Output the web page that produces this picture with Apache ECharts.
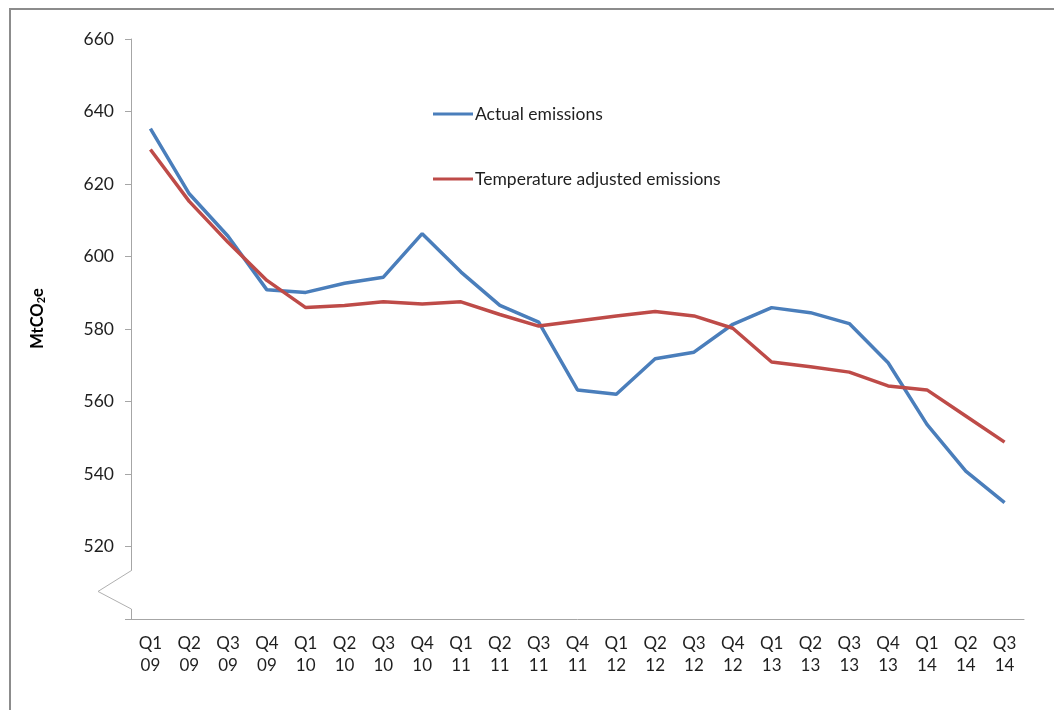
<!DOCTYPE html>
<html>
<head>
<meta charset="utf-8">
<script src="https://cdn.jsdelivr.net/npm/echarts@6/dist/echarts.min.js"></script>
<style>
html,body{margin:0;padding:0;background:#fff;}
#c{width:1054px;height:710px;}
</style>
</head>
<body>
<div id="c"></div>
<script>
const categories = ['Q1\n09','Q2\n09','Q3\n09','Q4\n09','Q1\n10','Q2\n10','Q3\n10','Q4\n10','Q1\n11','Q2\n11','Q3\n11','Q4\n11','Q1\n12','Q2\n12','Q3\n12','Q4\n12','Q1\n13','Q2\n13','Q3\n13','Q4\n13','Q1\n14','Q2\n14','Q3\n14'];
const actualEmissions = [635.3,617.3,605.6,590.8,590.1,592.6,594.3,606.3,595.7,586.5,581.9,563.2,562.0,571.8,573.6,581.3,585.9,584.5,581.5,570.7,553.7,540.8,532.1];
const temperatureAdjusted = [629.5,615.2,603.9,593.4,585.9,586.5,587.5,586.9,587.5,584.0,580.8,582.2,583.6,584.8,583.6,580.2,570.9,569.6,568.1,564.3,563.2,556.0,548.8];
const yTicks = {min:500, max:660, interval:20};

const FONT = 'Lato';
const TXT = '#1f1f1f';
const AXIS = '#a6a6a6';

const chart = echarts.init(document.getElementById('c'), null, {renderer:'canvas'});
chart.setOption({
  animation:false,
  backgroundColor:'#ffffff',
  grid:{left:131, right:30, top:39, bottom:91, containLabel:false},
  legend:{
    orient:'vertical', left:428, top:99,
    icon:'rect',
    itemWidth:40, itemHeight:3, itemGap:45,
    textStyle:{fontFamily:FONT, fontSize:17.5, color:TXT, lineHeight:20, padding:[0,0,0,-3]}
  },
  xAxis:{
    type:'category', data:categories, boundaryGap:true,
    axisLine:{lineStyle:{color:AXIS, width:1}},
    axisTick:{length:6, lineStyle:{color:AXIS}, alignWithLabel:false},
    axisLabel:{fontFamily:FONT, fontSize:17, color:TXT, lineHeight:22, margin:14, interval:0}
  },
  yAxis:{
    type:'value', min:yTicks.min, max:yTicks.max, interval:yTicks.interval,
    name:'{a|MtCO}{s|2}{a|e}', nameLocation:'middle', nameGap:84, nameRotate:90,
    nameTextStyle:{
      padding:[0,0,0,21],
      rich:{
        a:{fontFamily:FONT, fontSize:16.5, fontWeight:'bold', color:'#000', lineHeight:19},
        s:{fontFamily:FONT, fontSize:11, fontWeight:'bold', color:'#000', verticalAlign:'bottom', lineHeight:13}
      }
    },
    splitLine:{show:false},
    axisLine:{show:true, lineStyle:{color:AXIS, width:1}},
    axisTick:{show:true, length:6, lineStyle:{color:AXIS}},
    axisLabel:{fontFamily:FONT, fontSize:17.5, color:TXT, margin:17,
      formatter:function(v){return v===yTicks.min?'':String(v);}}
  },
  series:[
    {name:'Actual emissions', type:'line', data:actualEmissions, symbol:'none',
     lineStyle:{color:'#4a7ebb', width:3.5}, itemStyle:{color:'#4a7ebb'}},
    {name:'Temperature adjusted emissions', type:'line', data:temperatureAdjusted, symbol:'none',
     lineStyle:{color:'#be4b48', width:3.5}, itemStyle:{color:'#be4b48'}}
  ]
});

// axis-break decoration and outer frame
const yTop = chart.convertToPixel({yAxisIndex:0}, 513.3);
const yMid = chart.convertToPixel({yAxisIndex:0}, 507.6);
const yBot = chart.convertToPixel({yAxisIndex:0}, 502.8);
const ax = 131;
chart.setOption({
  graphic:[
    {type:'rect', shape:{x:10, y:9, width:1100, height:800}, style:{fill:'none', stroke:'#8c8c8c', lineWidth:2}, silent:true},
    {type:'rect', shape:{x:ax-2, y:yTop, width:4, height:yBot-yTop}, style:{fill:'#ffffff'}, z:100, silent:true},
    {type:'polyline', shape:{points:[[ax, yTop],[ax-33, yMid],[ax, yBot]]}, style:{stroke:'#b0b0b0', lineWidth:1, fill:'none'}, z:101, silent:true}
  ]
});
</script>
</body>
</html>
